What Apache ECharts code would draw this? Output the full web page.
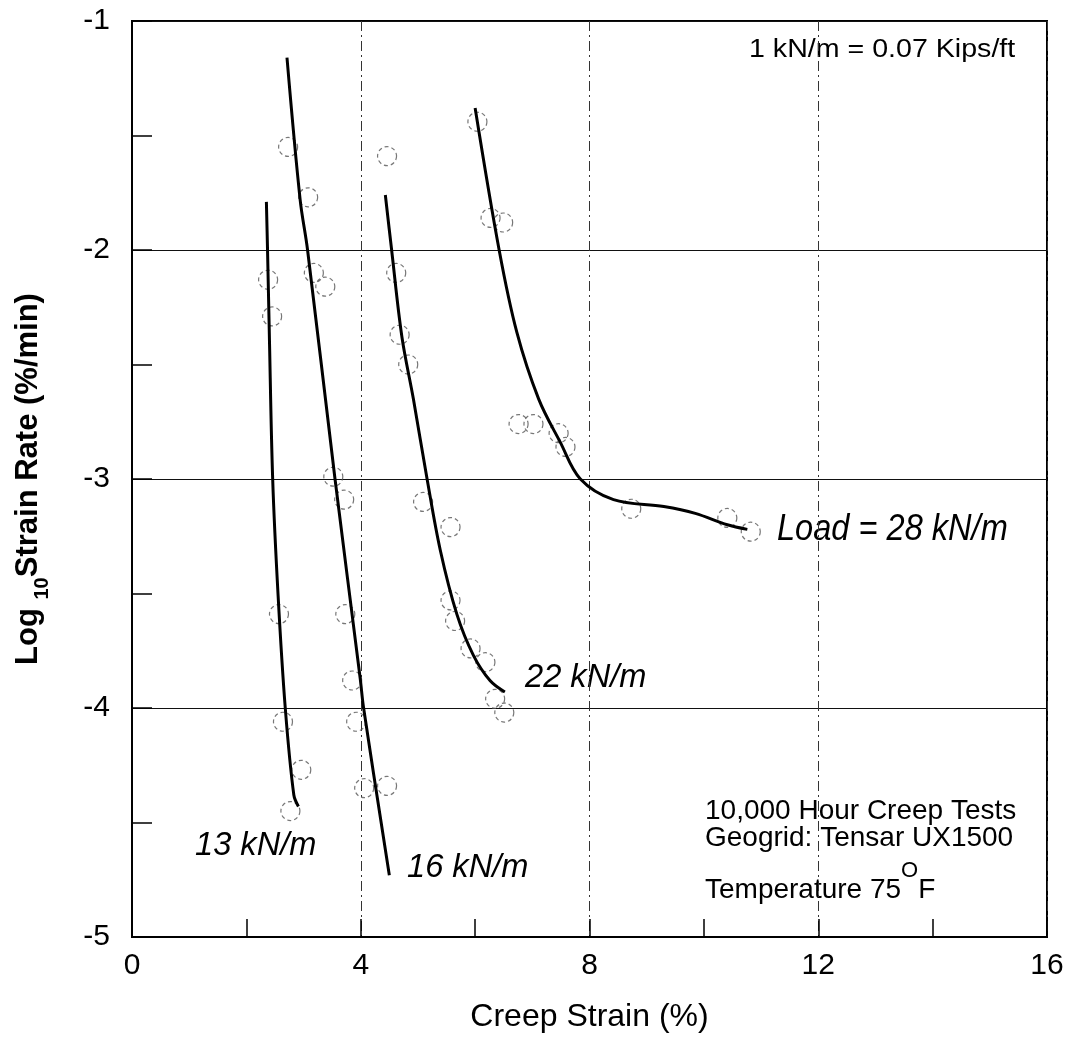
<!DOCTYPE html>
<html>
<head>
<meta charset="utf-8">
<script src="https://cdn.jsdelivr.net/npm/echarts@6/dist/echarts.min.js"></script>
<style>html,body{margin:0;padding:0;background:#fff}#c{width:1071px;height:1042px}</style>
</head>
<body>
<div id="c"></div>
<script>
// Fitted curves (creep strain %, log10 strain rate)
const curve13 = [[2.35,-1.79],[2.37,-2.0],[2.40,-2.35],[2.46,-3.0],[2.555,-3.51],[2.68,-4.0],[2.83,-4.38],[2.91,-4.43]];
const curve16 = [[2.71,-1.16],[2.94,-1.78],[3.07,-2.0],[3.55,-3.0],[3.99,-3.87],[4.05,-4.0],[4.50,-4.73]];
const curve22 = [[4.43,-1.76],[4.54,-2.0],[4.72,-2.38],[4.92,-2.65],[5.16,-3.0],[5.39,-3.31],[5.68,-3.59],[5.97,-3.77],[6.26,-3.88],[6.52,-3.93]];
const curve28 = [[6.0,-1.38],[6.42,-2.0],[6.73,-2.36],[7.11,-2.65],[7.49,-2.84],[7.84,-3.0],[8.42,-3.09],[9.30,-3.12],[9.85,-3.15],[10.41,-3.20],[10.76,-3.22]];
// Measured points
const pts13 = [[2.38,-2.13],[2.45,-2.29],[2.57,-3.59],[2.64,-4.06],[2.96,-4.27],[2.77,-4.45]];
const pts16 = [[2.73,-1.55],[3.08,-1.77],[3.18,-2.10],[3.38,-2.16],[3.52,-2.99],[3.71,-3.09],[3.73,-3.59],[3.85,-3.88],[3.92,-4.06],[4.06,-4.35],[4.46,-4.34]];
const pts22 = [[4.46,-1.59],[4.62,-2.10],[4.68,-2.37],[4.83,-2.50],[5.09,-3.10],[5.57,-3.21],[5.57,-3.53],[5.65,-3.62],[5.92,-3.74],[6.18,-3.80],[6.35,-3.96],[6.51,-4.02]];
const pts28 = [[6.04,-1.44],[6.27,-1.86],[6.49,-1.88],[6.76,-2.76],[7.02,-2.76],[7.46,-2.80],[7.58,-2.86],[8.73,-3.13],[10.41,-3.17],[10.82,-3.23]];

const FONT = "'Liberation Sans', Arial, Helvetica, sans-serif";
const chart = echarts.init(document.getElementById('c'));

function lineSeries(data) {
  return { type: 'line', data: data, smooth: 0.35, symbol: 'none', showSymbol: false, silent: true, z: 3,
    lineStyle: { color: '#000', width: 3 } };
}
function ptSeries(data) {
  return { type: 'scatter', data: data, symbol: 'circle', symbolSize: 19, silent: true, z: 2,
    itemStyle: { color: 'rgba(255,255,255,0)', borderColor: '#555', borderWidth: 1.2, borderType: [4, 3] } };
}

const option = {
  animation: false,
  backgroundColor: '#fff',
  grid: { left: 132, right: 24, top: 21, bottom: 105, show: true, borderColor: '#000', borderWidth: 2 },
  xAxis: {
    type: 'value', min: 0, max: 16, interval: 4,
    axisLine: { show: true, lineStyle: { color: '#000', width: 2 } },
    axisTick: { show: true, inside: true, length: 18, lineStyle: { color: '#000', width: 1.5 } },
    minorTick: { show: true, splitNumber: 2, length: 18, lineStyle: { color: '#000', width: 1.5 } },
    axisLabel: { fontSize: 30, color: '#000', margin: 14, fontFamily: FONT },
    splitLine: { show: true, lineStyle: { color: '#333', width: 1, type: [10, 4, 2, 4] } },
    name: 'Creep Strain (%)', nameLocation: 'middle', nameGap: 64,
    nameTextStyle: { fontSize: 32, color: '#000', fontFamily: FONT }
  },
  yAxis: {
    type: 'value', min: -5, max: -1, interval: 1,
    axisLine: { show: true, lineStyle: { color: '#000', width: 2 } },
    axisTick: { show: true, inside: true, length: 20, lineStyle: { color: '#000', width: 1.5 } },
    minorTick: { show: true, splitNumber: 2, length: 20, lineStyle: { color: '#000', width: 1.5 } },
    axisLabel: { fontSize: 30, color: '#000', margin: 22, fontFamily: FONT },
    splitLine: { show: true, lineStyle: { color: '#111', width: 1.2, type: 'solid' } },
    name: '{a|Log }{s|10}{a|Strain Rate (%/min)}',
    nameLocation: 'middle', nameRotate: 90, nameGap: 84,
    nameTextStyle: {
      rich: {
        a: { fontSize: 31, fontWeight: 'bold', lineHeight: 31, padding: [0, 0, 9, 0], color: '#000', fontFamily: FONT },
        s: { fontSize: 20, fontWeight: 'bold', lineHeight: 20, padding: [20, 0, 0, 0], color: '#000', fontFamily: FONT }
      }
    }
  },
  graphic: [
    { type: 'text', x: 749, y: 50, scaleX: 1.1, silent: true,
      style: { text: '1 kN/m = 0.07 Kips/ft', fontSize: 26, fontFamily: FONT, fill: '#000', textAlign: 'left', textVerticalAlign: 'middle' } },
    { type: 'text', x: 777, y: 530, scaleX: 0.88, silent: true,
      style: { text: 'Load = 28 kN/m', fontSize: 37, fontStyle: 'italic', fontFamily: FONT, fill: '#000', textAlign: 'left', textVerticalAlign: 'middle' } },
    { type: 'text', x: 525, y: 678, scaleX: 0.96, silent: true,
      style: { text: '22 kN/m', fontSize: 34, fontStyle: 'italic', fontFamily: FONT, fill: '#000', textAlign: 'left', textVerticalAlign: 'middle' } },
    { type: 'text', x: 195, y: 846, scaleX: 0.96, silent: true,
      style: { text: '13 kN/m', fontSize: 34, fontStyle: 'italic', fontFamily: FONT, fill: '#000', textAlign: 'left', textVerticalAlign: 'middle' } },
    { type: 'text', x: 407, y: 868, scaleX: 0.96, silent: true,
      style: { text: '16 kN/m', fontSize: 34, fontStyle: 'italic', fontFamily: FONT, fill: '#000', textAlign: 'left', textVerticalAlign: 'middle' } },
    { type: 'text', x: 705, y: 811, silent: true,
      style: { text: '10,000 Hour Creep Tests', fontSize: 28, fontFamily: FONT, fill: '#000', textAlign: 'left', textVerticalAlign: 'middle' } },
    { type: 'text', x: 705, y: 838, silent: true,
      style: { text: 'Geogrid: Tensar UX1500', fontSize: 28, fontFamily: FONT, fill: '#000', textAlign: 'left', textVerticalAlign: 'middle' } },
    { type: 'text', x: 705, y: 860, silent: true,
      style: { text: '{t|Temperature 75}{o|O}{t|F}', fill: '#000', textAlign: 'left', textVerticalAlign: 'top',
        rich: {
          t: { fontSize: 28, lineHeight: 44, verticalAlign: 'bottom', fontFamily: FONT, fill: '#000' },
          o: { fontSize: 22, lineHeight: 22, verticalAlign: 'top', fontFamily: FONT, fill: '#000' }
        } } }
  ],
  series: [
    ptSeries(pts13), ptSeries(pts16), ptSeries(pts22), ptSeries(pts28),
    lineSeries(curve13), lineSeries(curve16), lineSeries(curve22), lineSeries(curve28)
  ]
};
chart.setOption(option);
</script>
</body>
</html>
